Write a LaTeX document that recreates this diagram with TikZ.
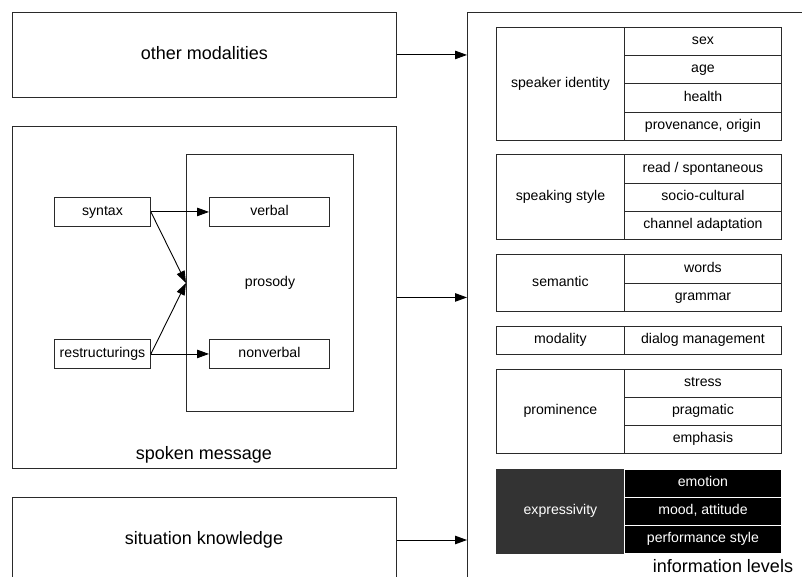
\documentclass[tikz,border=0pt]{standalone}
\usepackage{fontspec}
\setmainfont{Liberation Sans}
\usetikzlibrary{arrows.meta}
\definecolor{ln}{HTML}{2A2A2A}
\tikzset{
  x=1pt, y=-1pt,
  box/.style={draw=ln, line width=0.9pt, rectangle, inner sep=0pt},
  big/.style={font=\fontsize{18}{20}\selectfont, text height=13pt, text depth=4pt},
  small/.style={font=\fontsize{14.1}{16}\selectfont, text height=10pt, text depth=3pt},
  cell/.style={box, small, anchor=north west},
  dcell/.style={cell, fill=black, draw=white, text=white},
  arr/.style={draw=black, line width=0.9pt, -{Triangle[length=12pt,width=8.5pt]}},
}
\begin{document}
\begin{tikzpicture}
\useasboundingbox (0,0) rectangle (802,577);
\clip (0,0) rectangle (802,577);
\fill[white] (0,0) rectangle (802,577);
% left boxes
\node[box, anchor=north west, minimum width=384pt, minimum height=85pt, big] (om) at (12,12) {other modalities};
\node[box, anchor=north west, minimum width=384pt, minimum height=342pt] (sm) at (12,126) {};
\node[big] (smlabel) at (204,455) {spoken message};
\node[box, anchor=north west, minimum width=384pt, minimum height=100pt] (sk) at (12,497) {};
\node[big] (sklabel) at (204,540) {situation knowledge};
% prosody
\node[box, anchor=north west, minimum width=167pt, minimum height=257pt] (pros) at (186,154) {};
\node[small] (proslabel) at (270,283) {prosody};
\node[box, anchor=north west, minimum width=96pt, minimum height=29pt, small] (syn) at (54,197) {syntax};
\node[box, anchor=north west, minimum width=96pt, minimum height=29pt, small] (res) at (54,339) {restructurings};
\node[box, anchor=north west, minimum width=120pt, minimum height=29pt, small] (verb) at (209,197) {verbal};
\node[box, anchor=north west, minimum width=120pt, minimum height=29pt, small] (nonv) at (209,339) {nonverbal};
\coordinate (pin) at (186,283);
\draw[arr] (syn.east) -- (verb.west);
\draw[arr] (res.east) -- (nonv.west);
\draw[arr] (syn.east) -- (pin);
\draw[arr] (res.east) -- (pin);
% right container
\node[box, anchor=north west, minimum width=360pt, minimum height=600pt] (info) at (467,12) {};
\node[big] (infolabel) at (723,568) {information levels};
\draw[arr] (om.east) -- (om.east -| info.west);
\draw[arr] (sm.east) -- (sm.east -| info.west);
\draw[arr] (sklabel.east -| sk.east) -- (sklabel.east -| info.west);
% speaker identity
\node[cell, minimum width=128pt, minimum height=113pt] (spid) at (496,27) {speaker identity};
\node[cell, minimum width=157pt, minimum height=28pt] (sex) at (624,27) {sex};
\node[cell, minimum width=157pt, minimum height=28pt] (age) at (624,55) {age};
\node[cell, minimum width=157pt, minimum height=29pt] (health) at (624,83) {health};
\node[cell, minimum width=157pt, minimum height=28pt] (prov) at (624,112) {provenance, origin};
% speaking style
\node[cell, minimum width=128pt, minimum height=85pt] (spst) at (496,154) {speaking style};
\node[cell, minimum width=157pt, minimum height=29pt] (read) at (624,154) {read / spontaneous};
\node[cell, minimum width=157pt, minimum height=28pt] (soc) at (624,183) {socio-cultural};
\node[cell, minimum width=157pt, minimum height=28pt] (chan) at (624,211) {channel adaptation};
% semantic
\node[cell, minimum width=128pt, minimum height=57pt] (sem) at (496,254) {semantic};
\node[cell, minimum width=157pt, minimum height=29pt] (words) at (624,254) {words};
\node[cell, minimum width=157pt, minimum height=28pt] (gram) at (624,283) {grammar};
% modality
\node[cell, minimum width=128pt, minimum height=28pt] (moda) at (496,326) {modality};
\node[cell, minimum width=157pt, minimum height=28pt] (dial) at (624,326) {dialog management};
% prominence
\node[cell, minimum width=128pt, minimum height=84pt] (prom) at (496,369) {prominence};
\node[cell, minimum width=157pt, minimum height=28pt] (stress) at (624,369) {stress};
\node[cell, minimum width=157pt, minimum height=28pt] (prag) at (624,397) {pragmatic};
\node[cell, minimum width=157pt, minimum height=28pt] (emph) at (624,425) {emphasis};
% expressivity
\node[cell, fill=black!80, draw=black!80, text=white, minimum width=128pt, minimum height=84pt] (expr) at (496,469) {expressivity};
\node[dcell, minimum width=157pt, minimum height=28pt] (emo) at (624,469) {emotion};
\node[dcell, minimum width=157pt, minimum height=28pt] (mood) at (624,497) {mood, attitude};
\node[dcell, minimum width=157pt, minimum height=28pt] (perf) at (624,525) {performance style};
\end{tikzpicture}
\end{document}
